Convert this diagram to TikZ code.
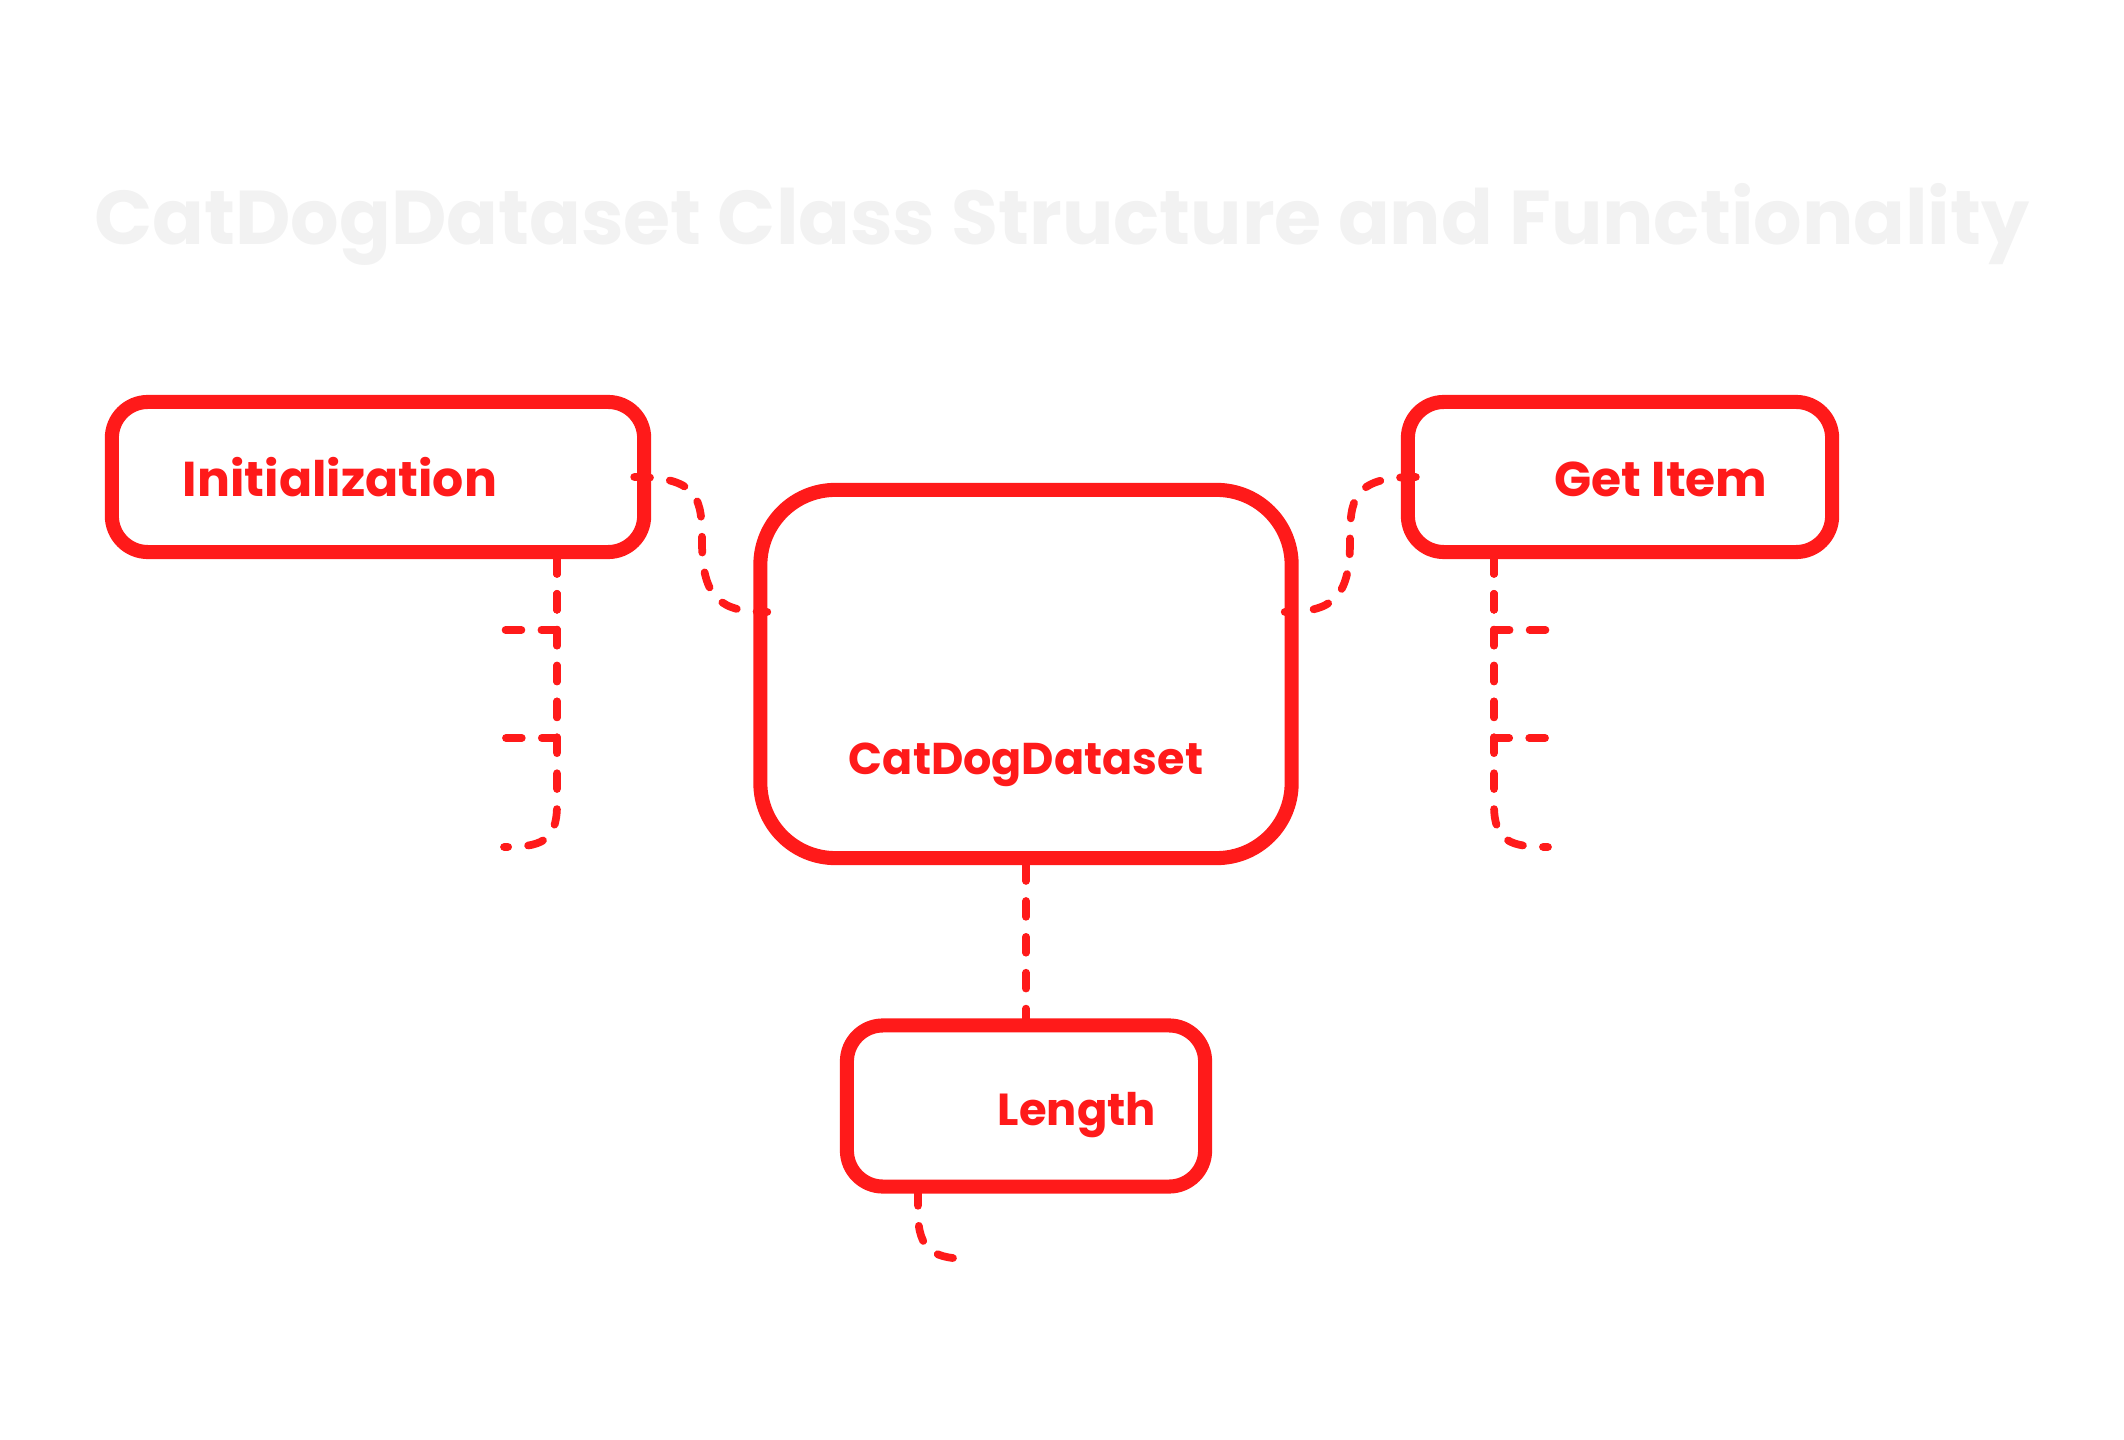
\documentclass[tikz,border=0pt]{standalone}
\usepackage{fontspec}
\setmainfont{Poppins}
\usepackage{graphicx}
\definecolor{sketchred}{HTML}{FF1A1A}
\definecolor{titlegray}{HTML}{F2F2F2}
\newcommand{\fitlabel}[2]{\resizebox{#1}{!}{\bfseries #2}}

\begin{document}
\begin{tikzpicture}[x=0.01cm, y=-0.01cm,
            box/.style = {draw=sketchred, line width=4pt, fill=white, inner sep=0pt},
            smallbox/.style = {box, rounded corners=0.36cm},
            bigbox/.style = {box, rounded corners=0.75cm},
            label/.style = {text=sketchred, inner sep=0pt, anchor=base},
            link/.style = {draw=sketchred, line width=2.2pt, line cap=round, dash pattern=on 4.5pt off 5.7pt},
            ]
            \useasboundingbox (0,0) rectangle (2124,1440);

            \node[text=titlegray, inner sep=0pt, anchor=base] (title) at (1062,245)
                {\fitlabel{19.34cm}{CatDogDataset Class Structure and Functionality}};

            \node[smallbox, minimum width=5.32cm, minimum height=1.50cm] (init) at (378,477) {};
            \node[smallbox, minimum width=4.24cm, minimum height=1.50cm] (getitem) at (1620,477) {};
            \node[bigbox, minimum width=5.31cm, minimum height=3.68cm] (dataset) at (1026,674) {};
            \node[smallbox, minimum width=3.58cm, minimum height=1.61cm] (length) at (1026,1106) {};

            \node[label] (initT) at (340,497) {\fitlabel{3.14cm}{Initialization}};
            \node[label] (getitemT) at (1661,497) {\fitlabel{2.13cm}{Get Item}};
            \node[label] (datasetT) at (1026,775) {\fitlabel{3.54cm}{CatDogDataset}};
            \node[label] (lengthT) at (1077,1125) {\fitlabel{1.58cm}{Length}};

            \coordinate (initfoot) at (557,558);
            \coordinate (initA) at (504,630);
            \coordinate (initB) at (504,738);
            \coordinate (initC) at (504,847);
            \coordinate (getfoot) at (1494,558);
            \coordinate (getA) at (1548,630);
            \coordinate (getB) at (1548,738);
            \coordinate (getC) at (1548,847);
            \coordinate (lengthfoot) at (918,1190);
            \coordinate (lengthC) at (972,1259);

            \draw[link] ([xshift=-0.17cm]init.east)
                .. controls (700,477) and (702,500) .. (702,542)
                .. controls (702,600) and (722,612) .. ([xshift=0.14cm, yshift=0.62cm]dataset.west);
            \draw[link] ([xshift=0.15cm]getitem.west)
                .. controls (1352,477) and (1350,500) .. (1350,542)
                .. controls (1350,600) and (1330,612) .. ([xshift=-0.14cm, yshift=0.62cm]dataset.east);
            \draw[link] (dataset.south) -- (length.north);

            \draw[link] (initfoot) |- (initA);
            \draw[link] (initfoot) |- (initB);
            \draw[link] (initfoot) -- (557,805) .. controls (557,842) and (540,847) .. (initC);
            \draw[link] (getfoot) |- (getA);
            \draw[link] (getfoot) |- (getB);
            \draw[link] (getfoot) -- (1494,805) .. controls (1494,842) and (1511,847) .. (getC);
            \draw[link] (lengthfoot) -- (918,1212) .. controls (918,1252) and (935,1259) .. (lengthC);

        \end{tikzpicture}
\end{document}
